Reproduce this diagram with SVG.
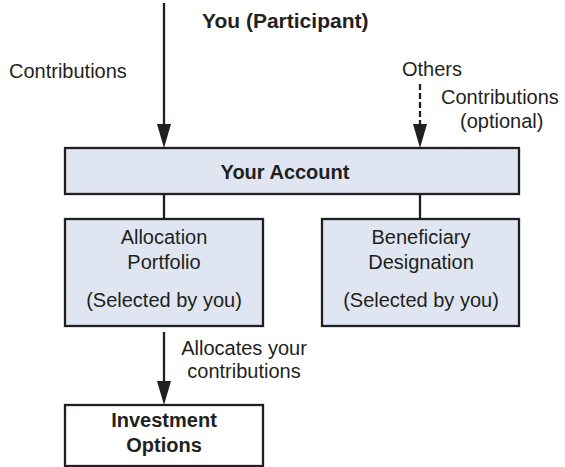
<svg xmlns="http://www.w3.org/2000/svg" width="565" height="467" viewBox="0 0 565 467">
  <style>
    .box { fill: #dfe6f1; stroke: #231f20; stroke-width: 2.3; }
    .wbox { fill: #ffffff; stroke: #231f20; stroke-width: 2.3; }
    .t { font-family: "Liberation Sans", Arial, sans-serif; font-size: 20px; fill: #231f20; }
    .b { font-weight: bold; }
    .c { text-anchor: middle; }
    .ln { stroke: #231f20; stroke-width: 2.3; fill: none; }
    .dash { stroke-dasharray: 6 3; }
  </style>
  <defs>
    <marker id="ah" viewBox="0 0 24 14" refX="18" refY="7" markerWidth="24" markerHeight="14" markerUnits="userSpaceOnUse" orient="auto">
      <path d="M0,0 L24,7 L0,14 Z" fill="#231f20"/>
    </marker>
  </defs>
  <rect width="565" height="467" fill="#ffffff"/>

  <g id="connectors">
    <path class="ln" d="M164,3 V142" marker-end="url(#ah)"/>
    <path class="ln dash" d="M420,84 V142" marker-end="url(#ah)"/>
    <path class="ln" d="M164,194 V219"/>
    <path class="ln" d="M420,194 V219"/>
    <path class="ln" d="M164,332 V399" marker-end="url(#ah)"/>
    <text class="t b" x="202" y="28" style="font-size:21px">You (Participant)</text>
    <text class="t" x="9" y="78">Contributions</text>
    <text class="t" x="402" y="76">Others</text>
    <text class="t" x="441" y="104">Contributions</text>
    <text class="t" x="460" y="128">(optional)</text>
    <text class="t c" x="244" y="355">Allocates your</text>
    <text class="t c" x="244" y="378">contributions</text>
  </g>

  <g id="your-account">
    <rect class="box" x="65" y="148" width="454" height="46"/>
    <text class="t b c" x="285" y="179">Your Account</text>
  </g>

  <g id="allocation-portfolio">
    <rect class="box" x="65" y="219" width="198" height="107"/>
    <text class="t c" x="164" y="244">Allocation</text>
    <text class="t c" x="164" y="269">Portfolio</text>
    <text class="t c" x="164" y="307">(Selected by you)</text>
  </g>

  <g id="beneficiary-designation">
    <rect class="box" x="322" y="219" width="197" height="107"/>
    <text class="t c" x="421" y="244">Beneficiary</text>
    <text class="t c" x="421" y="269">Designation</text>
    <text class="t c" x="421" y="307">(Selected by you)</text>
  </g>

  <g id="investment-options">
    <rect class="wbox" x="65" y="405" width="198" height="61"/>
    <text class="t b c" x="164" y="427">Investment</text>
    <text class="t b c" x="164" y="452">Options</text>
  </g>
</svg>
